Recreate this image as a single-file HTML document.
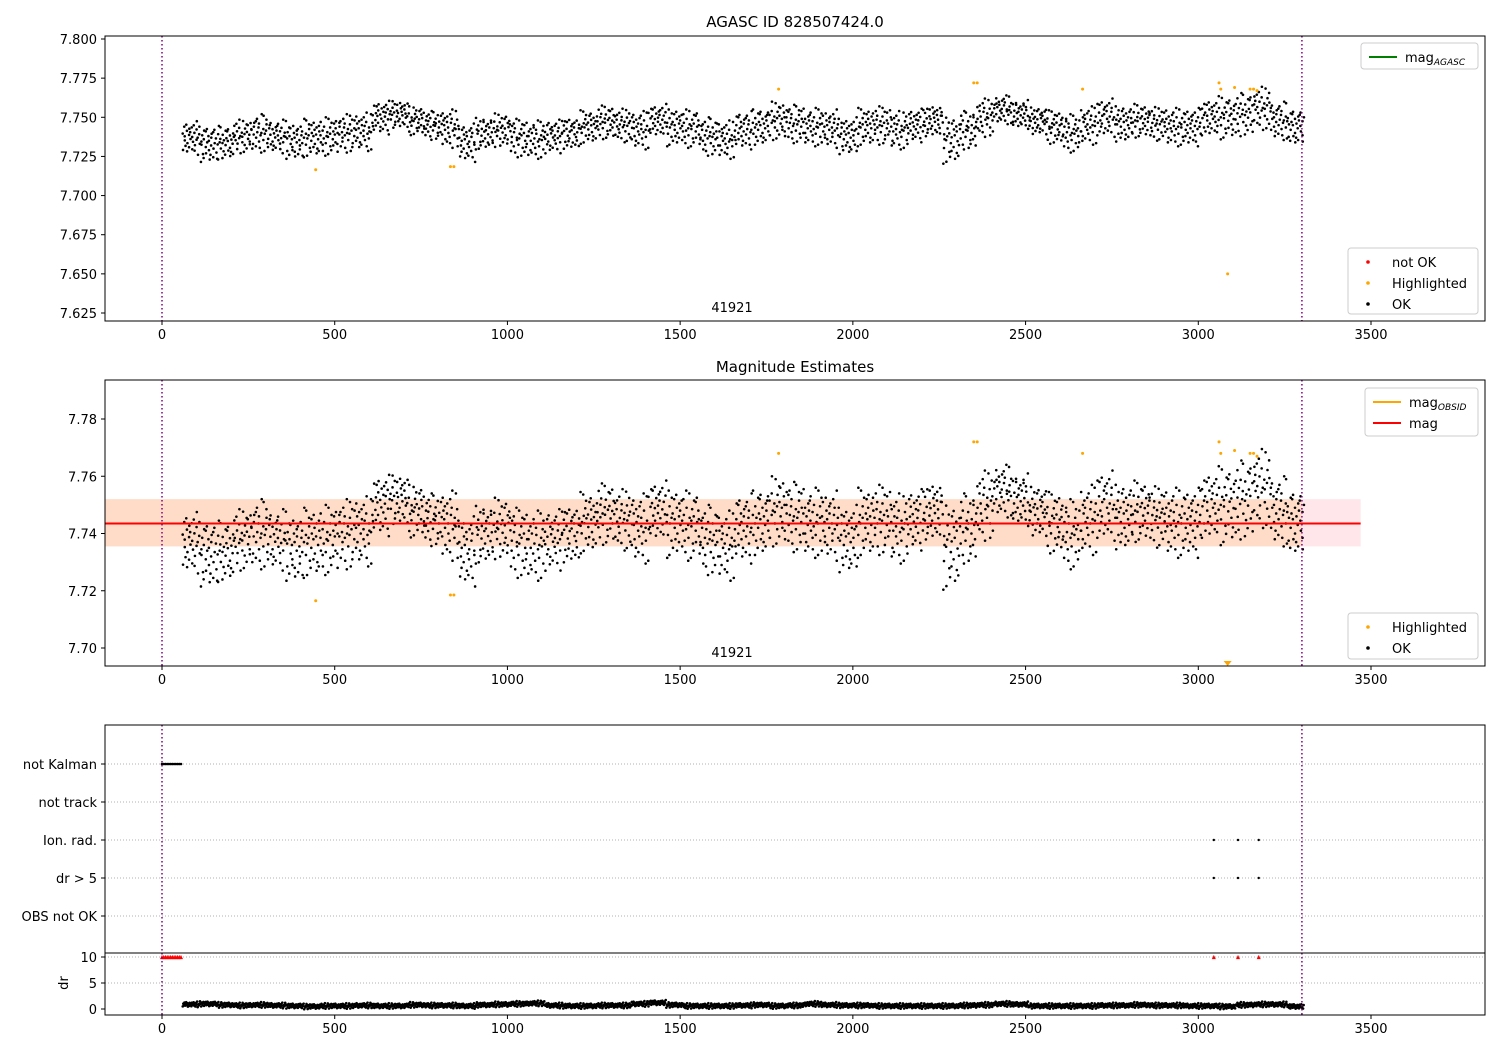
<!DOCTYPE html>
<html><head><meta charset="utf-8"><style>
body{margin:0;background:#fff;font-family:"Liberation Sans","DejaVu Sans",sans-serif}
svg text{font-family:"DejaVu Sans","Liberation Sans",sans-serif;font-size:13px;fill:#000}
</style></head><body>
<svg id="c" width="1500" height="1050" xmlns="http://www.w3.org/2000/svg"></svg>
<script>
const binStart = 60, binStep = 50;
const magTrend = [7.737,7.733,7.734,7.738,7.740,7.738,7.735,7.737,7.738,7.740,7.741,7.750,7.752,7.748,7.745,7.743,7.734,7.740,7.742,7.737,7.736,7.738,7.740,7.744,7.747,7.745,7.742,7.748,7.744,7.743,7.738,7.736,7.742,7.744,7.748,7.746,7.744,7.743,7.738,7.744,7.745,7.742,7.745,7.748,7.736,7.742,7.750,7.755,7.752,7.748,7.744,7.740,7.745,7.750,7.746,7.748,7.746,7.744,7.744,7.750,7.750,7.752,7.756,7.748,7.744,7.748];
const magSpread = [0.007,0.008,0.007,0.007,0.008,0.007,0.008,0.008,0.008,0.008,0.008,0.007,0.006,0.006,0.006,0.008,0.008,0.007,0.007,0.008,0.008,0.007,0.007,0.007,0.007,0.007,0.008,0.007,0.008,0.008,0.008,0.008,0.008,0.008,0.008,0.008,0.008,0.008,0.008,0.008,0.008,0.008,0.007,0.007,0.010,0.008,0.008,0.006,0.006,0.006,0.007,0.008,0.008,0.008,0.008,0.007,0.007,0.008,0.008,0.008,0.009,0.009,0.009,0.008,0.008,0.007];
const drTrend = [0.9,1.0,0.8,0.7,0.8,0.7,0.6,0.5,0.6,0.6,0.7,0.6,0.6,0.8,0.7,0.7,0.6,0.8,0.9,1.0,1.1,0.7,0.6,0.6,0.7,0.7,1.0,1.2,0.8,0.6,0.6,0.6,0.7,0.8,0.6,0.7,1.0,0.8,0.7,0.7,0.6,0.6,0.6,0.6,0.6,0.7,0.8,1.0,0.9,0.6,0.6,0.6,0.6,0.7,0.7,0.8,0.7,0.7,0.6,0.6,0.5,0.8,0.9,0.9,0.5,0.6];
const hlTimes = [445,835,845,1785,2350,2360,2665,3060,3065,3105,3150,3160,3170];
const hlMags = [7.7165,7.7185,7.7185,7.768,7.772,7.772,7.768,7.772,7.768,7.769,7.768,7.768,7.767];
const nkTimes = [0,5,10,15,20,25,30,35,40,45,50,55];
const flagTimes = [3045,3115,3175];
const xTicks = [0,500,1000,1500,2000,2500,3000,3500];
const y1Ticks = [7.625,7.650,7.675,7.700,7.725,7.750,7.775,7.800];
const y2Ticks = [7.70,7.72,7.74,7.76,7.78];
const cats = ["not Kalman","not track","Ion. rad.","dr > 5","OBS not OK"];
const drTicks = [0,5,10];
const magMean = 7.7435, bandLo = 7.7355, bandHi = 7.752;

const svg = document.getElementById('c');
const NS = 'http://www.w3.org/2000/svg';
function mk(tag, attrs, parent){const e=document.createElementNS(NS,tag);for(const k in attrs)e.setAttribute(k,attrs[k]);(parent||svg).appendChild(e);return e;}
const L=105,R=1485;
const X = t => 162 + (t)*0.34543;
const Y1 = m => 39 + (7.800-m)*1565.7;
const Y2 = m => 419 + (7.78-m)*2862.5;
const Yd = d => 1009 - d*5.2;
const pattern=[-0.9,0.3,-0.2,0.8,-0.6,0.1,0.95,-0.4,0.5,-1.0,0.2,-0.7,0.65,-0.1,0.4,-0.85,0.75,-0.3,0.05,0.9,-0.55,0.35,-0.95,0.6,-0.15,1.2,-1.25,0.0,-0.45,0.25,1.1,-0.05,-1.15,0.55,0.15,-0.65,0.85];
const xjit=[0.3,-0.6,0.9,-0.2,0.5,-0.9,0.1,0.7,-0.4,-0.8,0.6,0.0,-0.3];
const N=30;
function off(i,k){return pattern[(i*N+k)%pattern.length]*1.25;}
function frame(top,bot,name){const r=mk('rect',{x:L,y:top,width:R-L,height:bot-top,fill:'none',stroke:'#000','stroke-width':1});}
function xAxis(bot,name){const g=mk('g',{});
 xTicks.forEach(t=>{mk('line',{x1:X(t),x2:X(t),y1:bot,y2:bot+4,stroke:'#000'},g);const tx=mk('text',{x:X(t),y:bot+18,'text-anchor':'middle'},g);tx.textContent=t;});}
function vlines(top,bot){[0,3300].forEach(t=>{const l=mk('line',{x1:X(t),x2:X(t),y1:top,y2:bot,stroke:'#800080','stroke-width':1.5,'stroke-dasharray':'1.5,2.5'});});}
function yTicksF(ticks,Yf,fmt,name){const g=mk('g',{});
 ticks.forEach(v=>{mk('line',{x1:L-4,x2:L,y1:Yf(v),y2:Yf(v),stroke:'#000'},g);const tx=mk('text',{x:L-8,y:Yf(v)+5,'text-anchor':'end'},g);tx.textContent=fmt(v);});}
function scatter(Yf,g){magTrend.forEach((m,i)=>{for(let k=0;k<N;k++){const t=binStart+i*binStep+k*(binStep/N);if(t>3305)continue;const v=m+magSpread[i]*off(i,k);mk('circle',{cx:X(t)+xjit[(i+k)%xjit.length],cy:Yf(v),r:1.3,fill:'#000'},g);}});}
function text(x,y,s,name,anchor,size){const t=mk('text',{x:x,y:y,'text-anchor':anchor||'middle'});if(size)t.setAttribute('style','font-size:'+size+'px');t.textContent=s;return t;}

// Panel 1
text(795,27,"AGASC ID 828507424.0","title-agasc","middle",15);
const g1=mk('g',{});
scatter(Y1,g1);
hlTimes.forEach((t,i)=>{const c=mk('circle',{cx:X(t),cy:Y1(hlMags[i]),r:1.5,fill:'orange'});});
{const c=mk('circle',{cx:X(3085),cy:Y1(7.650),r:1.5,fill:'orange'});}
vlines(36,321);frame(36,321,'top-axes');xAxis(321,'x-axis-top');
yTicksF(y1Ticks,Y1,v=>v.toFixed(3),'y-axis-top');
text(732,312,"41921","obsid-label-top");

// Panel 2
text(795,372,"Magnitude Estimates","title-magnitude-estimates","middle",15);
{const b=mk('rect',{x:L,y:Y2(bandHi),width:X(3470)-L,height:Y2(bandLo)-Y2(bandHi),fill:'#ffc0cb',opacity:0.4});
 const b2=mk('rect',{x:L,y:Y2(bandHi),width:X(3300)-L,height:Y2(bandLo)-Y2(bandHi),fill:'#ffa500',opacity:0.15});}
const g2=mk('g',{});
scatter(Y2,g2);
{const l=mk('line',{x1:L,x2:X(3300),y1:Y2(magMean),y2:Y2(magMean),stroke:'orange','stroke-width':2});
 const l2=mk('line',{x1:L,x2:X(3470),y1:Y2(magMean),y2:Y2(magMean),stroke:'red','stroke-width':2});}
hlTimes.forEach((t,i)=>{const c=mk('circle',{cx:X(t),cy:Y2(hlMags[i]),r:1.5,fill:'orange'});});
{const p=mk('path',{d:`M${X(3085)-4},661 L${X(3085)+4},661 L${X(3085)},666 Z`,fill:'orange'});}
vlines(380,666);frame(380,666,'middle-axes');xAxis(666,'x-axis-middle');
yTicksF(y2Ticks,Y2,v=>v.toFixed(2),'y-axis-middle');
text(732,657,"41921","obsid-label-mid");

// Panel 3 flags
const catY=[764,802,840,878,916];
cats.forEach((c,i)=>{const l=mk('line',{x1:L,x2:R,y1:catY[i],y2:catY[i],stroke:'#b0b0b0','stroke-dasharray':'1,2'});
 mk('line',{x1:L-4,x2:L,y1:catY[i],y2:catY[i],stroke:'#000'});text(L-8,catY[i]+5,c,'flag-label-'+i,'end');});
nkTimes.forEach(t=>{const c=mk('circle',{cx:X(t),cy:764,r:1.3,fill:'#000'});});
flagTimes.forEach(t=>{[840,878].forEach(y=>{const c=mk('circle',{cx:X(t),cy:y,r:1.2,fill:'#000'});});});
[5,10].forEach(v=>{const l=mk('line',{x1:L,x2:R,y1:Yd(v),y2:Yd(v),stroke:'#b0b0b0','stroke-dasharray':'1,2'});});
const gd=mk('g',{});
drTrend.forEach((d,i)=>{for(let k=0;k<N;k++){const t=binStart+i*binStep+k*(binStep/N);if(t>3305)continue;mk('circle',{cx:X(t),cy:Yd(d+0.35*off(i,k)),r:1.3,fill:'#000'},gd);}});
nkTimes.concat(flagTimes).forEach(t=>{const x=X(t);const p=mk('path',{d:`M${x-2},${Yd(9.6)} L${x+2},${Yd(9.6)} L${x},${Yd(10.4)} Z`,fill:'red'});});
vlines(725,1015);frame(725,1015,'flags-axes');
{const l=mk('line',{x1:L,x2:R,y1:953,y2:953,stroke:'#000'});}
xAxis(1015,'x-axis-bottom');
yTicksF(drTicks,Yd,v=>v,'y-axis-dr');
{const t=text(70,983,"dr","dr-axis-title","middle");t.setAttribute('transform','rotate(-90 70 983)');t.setAttribute('dy','-2');}

function legend(x,y,w,h,entries,name){const g=mk('g',{});
 mk('rect',{x:x,y:y,width:w,height:h,rx:3,fill:'#fff',stroke:'#ccc','fill-opacity':0.8},g);
 entries.forEach((e,i)=>{const cy=y+14+i*21;
  if(e.type==='line')mk('line',{x1:x+8,x2:x+36,y1:cy,y2:cy,stroke:e.color,'stroke-width':2},g);
  else mk('circle',{cx:x+20,cy:cy,r:1.8,fill:e.color},g);
  const t=mk('text',{x:x+44,y:cy+5},g);t.innerHTML=e.label;});}
legend(1361,43,117,26,[{type:'line',color:'green',label:'mag<tspan font-size="9" font-style="italic" dy="3">AGASC</tspan>'}],'legend-agasc');
legend(1348,248,130,66,[{type:'dot',color:'red',label:'not OK'},{type:'dot',color:'orange',label:'Highlighted'},{type:'dot',color:'#000',label:'OK'}],'legend-points-top');
legend(1365,388,113,48,[{type:'line',color:'orange',label:'mag<tspan font-size="9" font-style="italic" dy="3">OBSID</tspan>'},{type:'line',color:'red',label:'mag'}],'legend-mag');
legend(1348,613,130,46,[{type:'dot',color:'orange',label:'Highlighted'},{type:'dot',color:'#000',label:'OK'}],'legend-points-mid');
</script>
</body></html>
